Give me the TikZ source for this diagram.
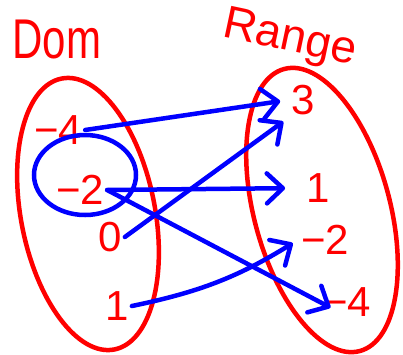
\documentclass[tikz,border=0pt]{standalone}
\usepackage{fontspec}
\setmainfont{Liberation Sans}
\usetikzlibrary{arrows.meta, positioning, calc}
\definecolor{inkred}{RGB}{255,0,0}
\definecolor{inkblue}{RGB}{0,0,255}

\begin{document}
\begin{tikzpicture}[
    x=1pt, y=-1pt,
    num/.style={text=inkred, font=\fontsize{42}{42}\selectfont, inner sep=3pt},
    head/.style={text=inkred, font=\fontsize{56}{56}\selectfont, inner sep=0pt},
    oval/.style={draw=inkred, line width=4.5pt},
    ring/.style={draw=inkblue, line width=4.5pt},
    arrow/.style={-{Straight Barb[length=16pt, width=30pt, line cap=round, round]}, line width=4.5pt, inkblue, line cap=round}
]
\useasboundingbox (0,0) rectangle (403,354);

% Titles
\node[head, xscale=0.75] (dom) at (57,40) {Dom};
\node[head, font=\fontsize{46}{46}\selectfont, rotate=-12] (rng) at (290,40) {Range};

% Two sets
\draw[oval, rotate around={11:(88,214)}] (88,214) ellipse [x radius=67, y radius=138];
\draw[oval, rotate around={15:(322,210)}] (322,210) ellipse [x radius=68, y radius=146];

% Domain values
\node[num] (mFourL) at (58,130) {−4};
\node[num] (mTwoL) at (80,190) {−2};
\node[num] (zeroL) at (110,237) {0};
\node[num] (oneL) at (117,306) {1};

% Range values
\node[num] (threeR) at (303,100) {3};
\node[num] (oneR) at (318,188) {1};
\node[num] (mTwoR) at (325,240) {−2};
\node[num] (mFourR) at (347,302) {−4};

% Circle round -2
\draw[ring] (85,175) ellipse [x radius=51, y radius=40];

% Arrows
\draw[arrow, shorten >=8pt] (mFourL.east) -- (threeR.west);
\draw[arrow, shorten >=6pt] (zeroL.east) -- (threeR.south west);
\draw[arrow, shorten >=18pt] (mTwoL.east) -- (oneR.west);
\draw[arrow, shorten >=-12pt] (mTwoL.east) -- (mFourR.west);
\draw[arrow, shorten >=6pt] (oneL.east) to[bend right=10] (mTwoR.west);

\end{tikzpicture}
\end{document}
